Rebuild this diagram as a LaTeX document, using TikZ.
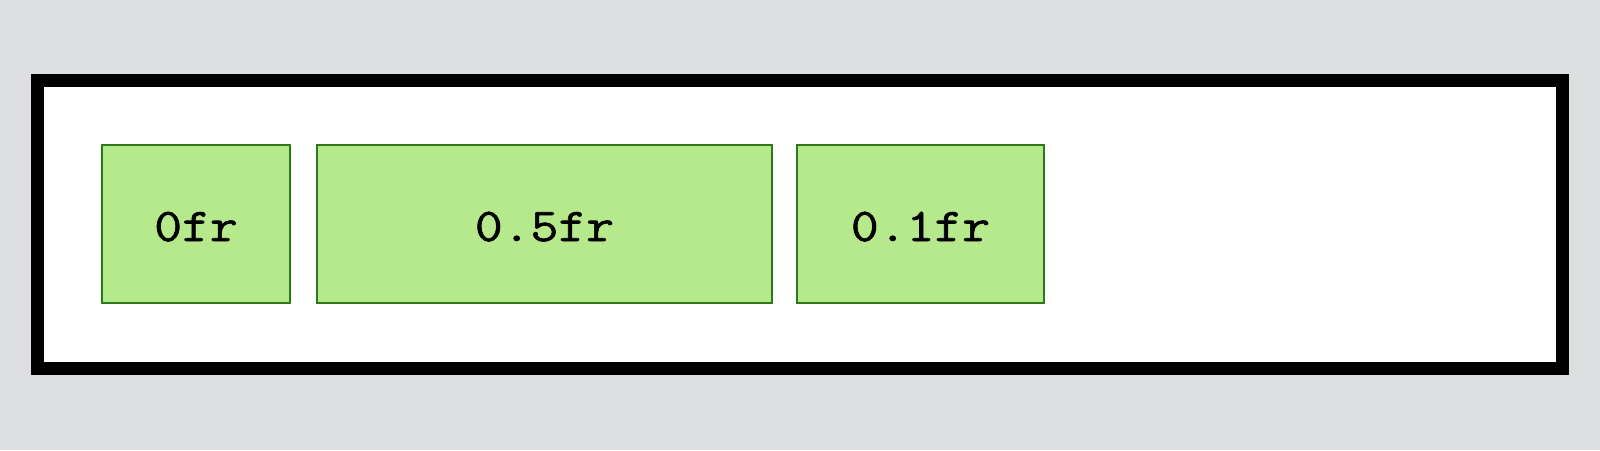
\documentclass[tikz,border=0pt]{standalone}
\usepackage{fontspec}
\newfontfamily\cellfont[FakeStretch=1.15,FakeBold=1.3]{Latin Modern Mono}
\definecolor{bg}{HTML}{DDDEE0}
\definecolor{cellfill}{HTML}{B6E88C}
\definecolor{celldraw}{HTML}{2A7A1C}
\begin{document}
\begin{tikzpicture}[x=0.5pt,y=-0.5pt,
  cell/.style={rectangle,draw=celldraw,fill=cellfill,line width=0.75pt,inner sep=0pt,
    minimum height=79pt,text height=17pt,text depth=0pt,font=\fontsize{23.5}{23.5}\selectfont\cellfont}]
\fill[bg] (0,0) rectangle (1600,450);
\useasboundingbox (0,0) rectangle (1600,450);
\node[draw=black,fill=white,line width=6.5pt,minimum width=762.75pt,minimum height=144pt,inner sep=0pt] (frame) at (800,224.5) {};
\node[cell,minimum width=94pt] (c1) at (196,224) {0fr};
\node[cell,minimum width=227.5pt] (c2) at (544.5,224) {0.5fr};
\node[cell,minimum width=123.5pt] (c3) at (920.5,224) {0.1fr};
\end{tikzpicture}
\end{document}
